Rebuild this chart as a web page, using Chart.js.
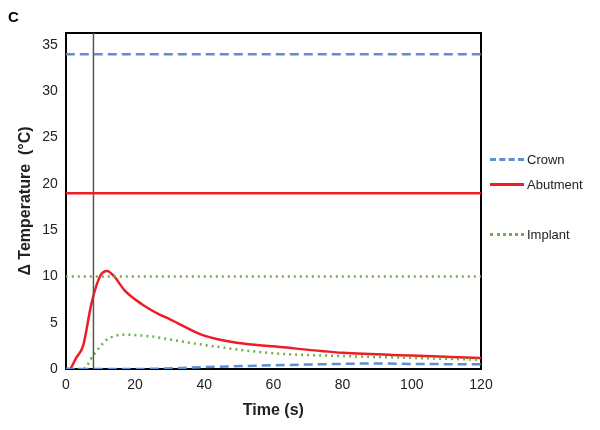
<!DOCTYPE html>
<html>
<head>
<meta charset="utf-8">
<script src="https://cdn.jsdelivr.net/npm/chart.js@4"></script>
<style>
  body { margin: 0; background: #fff; font-family: 'Liberation Sans', Arial, sans-serif; }
  #wrap { position: relative; width: 600px; height: 430px; }
  #panel { position: absolute; left: 8px; top: 8px; font-weight: bold; font-size: 15px; }
  .leg { position: absolute; left: 490px; font-size: 13px; color: #222; display: flex; align-items: center; }
  .leg span.sw { display: inline-block; width: 34px; margin-right: 3px; }
</style>
</head>
<body>
<div id="wrap">
  <canvas id="c" width="600" height="430"></canvas>
  <div id="panel">C</div>
  <div class="leg" style="top:152px"><span class="sw" style="border-top:3px dashed #5b8fd6"></span>Crown</div>
  <div class="leg" style="top:177px"><span class="sw" style="border-top:3px solid #ee1c24"></span>Abutment</div>
  <div class="leg" style="top:227px"><span class="sw" style="border-top:3px dotted #6cb04a"></span>Implant</div>
</div>
<script>
const Chart = window.Chart

// Time points (s) and temperature rise (°C) per component
const abutmentT = [0, 1, 3, 5, 7.5, 10, 12, 14, 17, 22, 27, 30, 40, 50, 60, 80, 100, 120]
const abutmentY = [0, 0, 1.2, 2.5, 7.2, 10.1, 10.6, 10.0, 8.5, 7.0, 5.9, 5.4, 3.6, 2.8, 2.45, 1.75, 1.45, 1.2]
const implantT = [0, 5, 8, 12, 17, 25, 30, 40, 60, 80, 100, 120]
const implantY = [0, 0, 1.5, 3.2, 3.7, 3.5, 3.2, 2.6, 1.7, 1.4, 1.2, 1.0]
const crownT = [0, 20, 40, 60, 80, 90, 100, 120]
const crownY = [0, 0, 0.2, 0.4, 0.55, 0.6, 0.55, 0.5]
const yTicks = [0, 5, 10, 15, 20, 25, 30, 35]
// steady-state reference levels
const crownLevel = 34
const abutmentLevel = 19
const implantLevel = 10
const markerTime = 8

const pts = (xs, ys) => xs.map((x, i) => ({ x, y: ys[i] }))
const flat = v => [{ x: 0, y: v }, { x: 120, y: v }]

const blue = '#5b8fd6'
const red = '#ee1c24'
const green = '#6cb04a'

new Chart(document.getElementById('c'), {
  type: 'line',
  data: {
    datasets: [
      { data: flat(crownLevel), borderColor: blue, borderWidth: 2.5, borderDash: [9, 5] },
      { data: flat(abutmentLevel), borderColor: red, borderWidth: 2.5 },
      { data: flat(implantLevel), borderColor: green, borderWidth: 2.5, borderDash: [2, 4] },
      { data: [{ x: markerTime, y: 0 }, { x: markerTime, y: 40 }], borderColor: '#555', borderWidth: 1.5 },
      { data: pts(crownT, crownY), borderColor: blue, borderWidth: 2.5, borderDash: [9, 5], cubicInterpolationMode: 'monotone' },
      { data: pts(implantT, implantY), borderColor: green, borderWidth: 2.5, borderDash: [2, 4], cubicInterpolationMode: 'monotone' },
      { data: pts(abutmentT, abutmentY), borderColor: red, borderWidth: 2.5, cubicInterpolationMode: 'monotone' }
    ]
  },
  options: {
    responsive: false,
    animation: false,
    layout: { padding: { left: 12, top: 33, right: 119, bottom: 6 } },
    elements: { point: { radius: 0 } },
    plugins: { legend: { display: false }, tooltip: { enabled: false } },
    scales: {
      x: {
        type: 'linear', min: 0, max: 120,
        ticks: { stepSize: 20, color: '#222', font: { size: 14 } },
        grid: { display: false, tickLength: 5, tickColor: '#000' },
        border: { color: '#000', width: 2 },
        title: { display: true, text: 'Time (s)', color: '#222', font: { size: 16, weight: 'bold' } }
      },
      y: {
        min: 0, max: 36.3,
        afterBuildTicks: axis => { axis.ticks = yTicks.map(v => ({ value: v })) },
        ticks: { color: '#222', font: { size: 14 } },
        grid: { display: false, tickLength: 5, tickColor: '#000' },
        border: { color: '#000', width: 2 },
        title: { display: true, text: 'Δ Temperature  (°C)', color: '#222', font: { size: 16, weight: 'bold' } }
      },
      x2: { position: 'top', type: 'linear', min: 0, max: 120, ticks: { display: false }, grid: { display: false, drawTicks: false }, border: { color: '#000', width: 2 } },
      y2: { position: 'right', min: 0, max: 36.3, ticks: { display: false }, grid: { display: false, drawTicks: false }, border: { color: '#000', width: 2 } }
    }
  }
})
</script>
</body>
</html>
